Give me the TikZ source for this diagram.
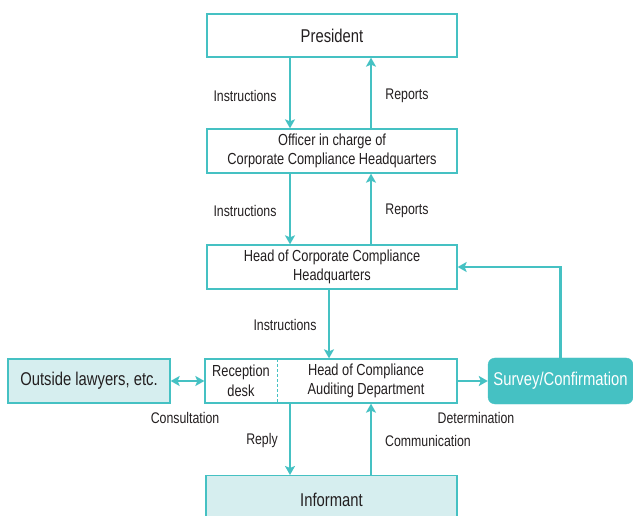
\documentclass[tikz,border=0pt]{standalone}
\usepackage{fontspec}
\setmainfont{Liberation Sans}[FakeStretch=0.8]
\usetikzlibrary{arrows.meta}
\definecolor{teal1}{HTML}{45C1C3}
\definecolor{tealfill}{HTML}{D6EEEF}
\definecolor{txt}{HTML}{231F20}
\tikzset{
  box/.style={draw=teal1, line width=1.3pt, fill=white, text=txt, align=center, inner sep=0pt},
  lightbox/.style={box, fill=tealfill},
  arr/.style={draw=teal1, line width=2.4pt, -{Stealth[length=9pt,width=10pt,inset=2pt]}},
  darr/.style={draw=teal1, line width=2.4pt, {Stealth[length=9pt,width=10pt,inset=2pt]}-{Stealth[length=9pt,width=10pt,inset=2pt]}},
  lbl/.style={text=txt, font=\fontsize{15.4}{18}\selectfont, inner sep=0pt},
  mid/.style={font=\fontsize{16}{19.5}\selectfont},
  big/.style={font=\fontsize{18.5}{22}\selectfont},
}
\begin{document}
\begin{tikzpicture}[x=1pt,y=-1pt]
\useasboundingbox (0,0) rectangle (633,516);
% boxes
\node[box,big,minimum width=250pt,minimum height=43pt] (pres) at (332,35.5) {President};
\node[box,mid,minimum width=250pt,minimum height=44pt] (off) at (332,151) {Officer in charge of\\Corporate Compliance Headquarters};
\node[box,mid,minimum width=250pt,minimum height=44pt] (head) at (332,267) {Head of Corporate Compliance\\Headquarters};
\node[box,mid,minimum width=252pt,minimum height=44pt] (aud) at (331,381) {};
\node[mid,text=txt,align=center,inner sep=0pt] (rec) at (241,381) {Reception\\desk};
\node[mid,text=txt,align=center,inner sep=0pt] (audt) at (366,381) {Head of Compliance\\Auditing Department};
\coordinate (dtop) at (277,359);
\coordinate (dbot) at (277,403);
\draw[teal1,line width=1pt,dash pattern=on 3pt off 2pt] (dtop) -- (dbot);
\node[lightbox,big,minimum width=162pt,minimum height=44pt] (law) at (89,381) {Outside lawyers, etc.};
\node[draw=teal1,fill=teal1,rounded corners=7pt,text=white,big,minimum width=145pt,minimum height=46pt,inner sep=0pt] (sur) at (560.5,381) {Survey/Confirmation};
\node[lightbox,big,minimum width=251pt,minimum height=48pt,anchor=north] (inf) at (331.5,475) {Informant};
% arrows
\draw[arr] (pres.south -| 290,0) -- (off.north -| 290,0);
\draw[arr] (off.north -| 371,0) -- (pres.south -| 371,0);
\draw[arr] (off.south -| 290,0) -- (head.north -| 290,0);
\draw[arr] (head.north -| 371,0) -- (off.south -| 371,0);
\draw[arr] (head.south -| 329,0) -- (aud.north -| 329,0);
\draw[darr] (law.east) -- (aud.west);
\draw[arr] (aud.east) -- (sur.west);
\draw[arr] (sur.north) |- (head.east);
\draw[arr] (aud.south -| 290,0) -- (inf.north -| 290,0);
\draw[arr] (inf.north -| 371,0) -- (aud.south -| 371,0);
% labels
\node[lbl] (l1) at (245,96) {Instructions};
\node[lbl] (l2) at (407,96) {Reports};
\node[lbl] (l3) at (245,211) {Instructions};
\node[lbl] (l4) at (407,211) {Reports};
\node[lbl] (l5) at (285,325) {Instructions};
\node[lbl] (l6) at (185,418) {Consultation};
\node[lbl] (l7) at (476,418) {Determination};
\node[lbl] (l8) at (262,441) {Reply};
\node[lbl] (l9) at (428,441) {Communication};
\end{tikzpicture}
\end{document}
